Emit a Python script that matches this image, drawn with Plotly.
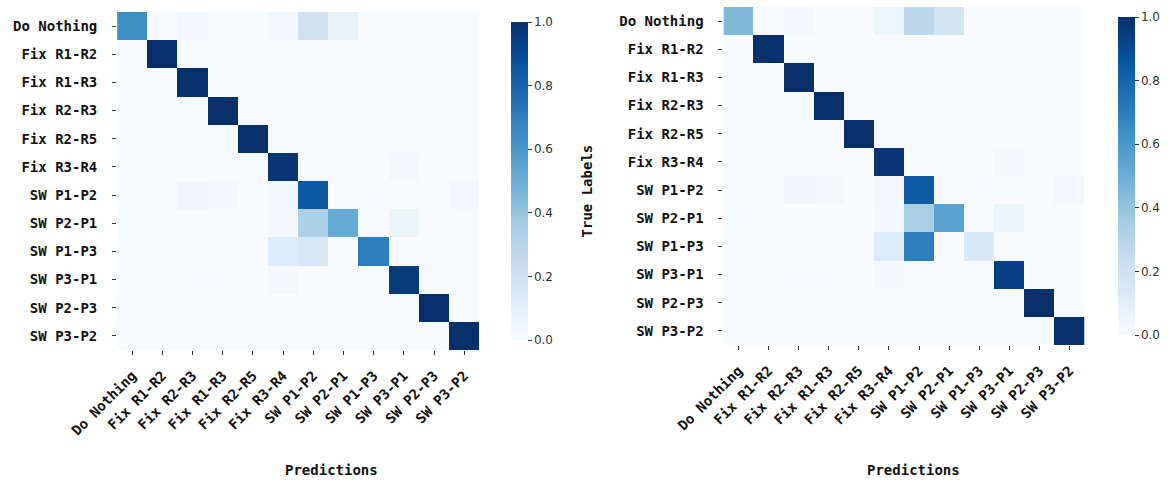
import plotly.graph_objects as go
import plotly.express as px

y_labels = ["Do Nothing", "Fix R1-R2", "Fix R1-R3", "Fix R2-R3", "Fix R2-R5", "Fix R3-R4",
            "SW P1-P2", "SW P2-P1", "SW P1-P3", "SW P3-P1", "SW P2-P3", "SW P3-P2"]
x_labels = ["Do Nothing", "Fix R1-R2", "Fix R2-R3", "Fix R1-R3", "Fix R2-R5", "Fix R3-R4",
            "SW P1-P2", "SW P2-P1", "SW P1-P3", "SW P3-P1", "SW P2-P3", "SW P3-P2"]

left_matrix = [
    [0.64, 0.00, 0.02, 0.00, 0.00, 0.03, 0.20, 0.08, 0.00, 0.00, 0.00, 0.00],
    [0.00, 1.00, 0.00, 0.00, 0.00, 0.00, 0.00, 0.00, 0.00, 0.00, 0.00, 0.00],
    [0.00, 0.00, 1.00, 0.00, 0.00, 0.00, 0.00, 0.00, 0.00, 0.00, 0.00, 0.00],
    [0.00, 0.00, 0.00, 1.00, 0.00, 0.00, 0.00, 0.00, 0.00, 0.00, 0.00, 0.00],
    [0.00, 0.00, 0.00, 0.00, 1.00, 0.00, 0.00, 0.00, 0.00, 0.00, 0.00, 0.00],
    [0.00, 0.00, 0.00, 0.00, 0.00, 0.98, 0.00, 0.00, 0.00, 0.02, 0.00, 0.00],
    [0.00, 0.00, 0.04, 0.02, 0.00, 0.03, 0.85, 0.00, 0.01, 0.00, 0.00, 0.03],
    [0.01, 0.00, 0.00, 0.00, 0.00, 0.02, 0.33, 0.52, 0.00, 0.06, 0.00, 0.00],
    [0.00, 0.00, 0.00, 0.00, 0.00, 0.13, 0.15, 0.00, 0.70, 0.00, 0.00, 0.00],
    [0.00, 0.00, 0.01, 0.01, 0.00, 0.02, 0.00, 0.00, 0.00, 0.96, 0.00, 0.00],
    [0.00, 0.00, 0.00, 0.00, 0.00, 0.00, 0.00, 0.00, 0.00, 0.00, 1.00, 0.00],
    [0.00, 0.00, 0.00, 0.00, 0.00, 0.00, 0.00, 0.00, 0.00, 0.00, 0.00, 1.00],
]

right_matrix = [
    [0.45, 0.00, 0.02, 0.00, 0.00, 0.05, 0.28, 0.18, 0.00, 0.00, 0.00, 0.00],
    [0.00, 1.00, 0.00, 0.00, 0.00, 0.00, 0.00, 0.00, 0.00, 0.00, 0.00, 0.00],
    [0.00, 0.00, 1.00, 0.00, 0.00, 0.00, 0.00, 0.00, 0.00, 0.00, 0.00, 0.00],
    [0.00, 0.00, 0.00, 1.00, 0.00, 0.00, 0.00, 0.00, 0.00, 0.00, 0.00, 0.00],
    [0.00, 0.00, 0.00, 0.00, 1.00, 0.00, 0.00, 0.00, 0.00, 0.00, 0.00, 0.00],
    [0.00, 0.00, 0.00, 0.00, 0.00, 0.98, 0.00, 0.00, 0.00, 0.02, 0.00, 0.00],
    [0.00, 0.00, 0.04, 0.03, 0.00, 0.03, 0.84, 0.00, 0.01, 0.00, 0.00, 0.03],
    [0.01, 0.00, 0.00, 0.00, 0.00, 0.02, 0.34, 0.55, 0.00, 0.06, 0.00, 0.00],
    [0.00, 0.00, 0.00, 0.00, 0.00, 0.13, 0.70, 0.00, 0.14, 0.00, 0.00, 0.00],
    [0.00, 0.00, 0.01, 0.01, 0.00, 0.02, 0.00, 0.00, 0.00, 0.94, 0.00, 0.00],
    [0.00, 0.00, 0.00, 0.00, 0.00, 0.00, 0.00, 0.00, 0.00, 0.00, 1.00, 0.00],
    [0.00, 0.00, 0.00, 0.00, 0.00, 0.00, 0.00, 0.00, 0.00, 0.00, 0.00, 1.00],
]

colorbar_ticks = [0.0, 0.2, 0.4, 0.6, 0.8, 1.0]

W, H = 1171, 485
blues = px.colors.sequential.Blues
n = len(blues)
cscale = [[i / (n - 1), c] for i, c in enumerate(blues)]

LBL_FONT = dict(family="DejaVu Sans Mono", size=14, color="#111")
idx = list(range(len(x_labels)))


def fx(px_):
    return px_ / W


def fy(py):
    return 1 - py / H


panels = [
    dict(z=left_matrix, xd=(118, 483), yd=(12, 350), cbx=505, xa="x", ya="y"),
    dict(z=right_matrix, xd=(729, 1093), yd=(7, 345), cbx=1117, xa="x2", ya="y2"),
]

fig = go.Figure()
for p in panels:
    fig.add_trace(go.Heatmap(
        z=p["z"], x=idx, y=idx, xaxis=p["xa"], yaxis=p["ya"],
        colorscale=cscale, zmin=0, zmax=1,
        colorbar=dict(
            x=fx(p["cbx"]), xanchor="left", y=fy(p["yd"][0]), yanchor="top",
            len=(p["yd"][1] - p["yd"][0]) / H, lenmode="fraction",
            thickness=17, thicknessmode="pixels", outlinewidth=0,
            tickvals=colorbar_ticks, ticktext=[f"{v:.1f}" for v in colorbar_ticks],
            ticks="outside", ticklen=4, tickcolor="#333",
            tickfont=dict(family="DejaVu Sans", size=12, color="#333"),
        ),
        hoverongaps=False,
    ))

for i, p in enumerate(panels):
    sfx = "" if i == 0 else "2"
    fig.layout["xaxis" + sfx] = dict(
        domain=[fx(p["xd"][0]), fx(p["xd"][1])], anchor="y" + sfx,
        tickvals=idx, ticktext=[f"<b>{t}</b>" for t in x_labels],
        tickangle=-45, tickfont=LBL_FONT, ticks="outside", ticklen=4,
        tickcolor="#333", showgrid=False, zeroline=False, showline=False,
        range=[-0.5, 11.5], automargin=False, ticklabelstandoff=7,
    )
    fig.layout["yaxis" + sfx] = dict(
        domain=[fy(p["yd"][1]), fy(p["yd"][0])], anchor="x" + sfx,
        tickvals=idx, ticktext=[f"<b>{t}</b>" for t in y_labels],
        tickfont=LBL_FONT, ticks="outside", ticklen=4, tickcolor="#333",
        showgrid=False, zeroline=False, showline=False,
        range=[11.5, -0.5], automargin=False, ticklabelstandoff=12,
    )

annos = [
    dict(text="<b>Predictions</b>", x=fx(334), y=fy(470)),
    dict(text="<b>Predictions</b>", x=fx(921), y=fy(470)),
    dict(text="<b>True Labels</b>", x=fx(592), y=fy(191), textangle=-90),
]
for a in annos:
    fig.add_annotation(xref="paper", yref="paper", showarrow=False,
                       xanchor="center", yanchor="middle",
                       font=dict(family="DejaVu Sans Mono", size=14, color="#111"), **a)

fig.update_layout(
    width=W, height=H, autosize=False, template="none",
    margin=dict(l=0, r=0, t=0, b=0),
    paper_bgcolor="white", plot_bgcolor="white",
)

fig.write_html("out.html", config={"displayModeBar": False},
               post_script="document.body.style.margin='0';")
